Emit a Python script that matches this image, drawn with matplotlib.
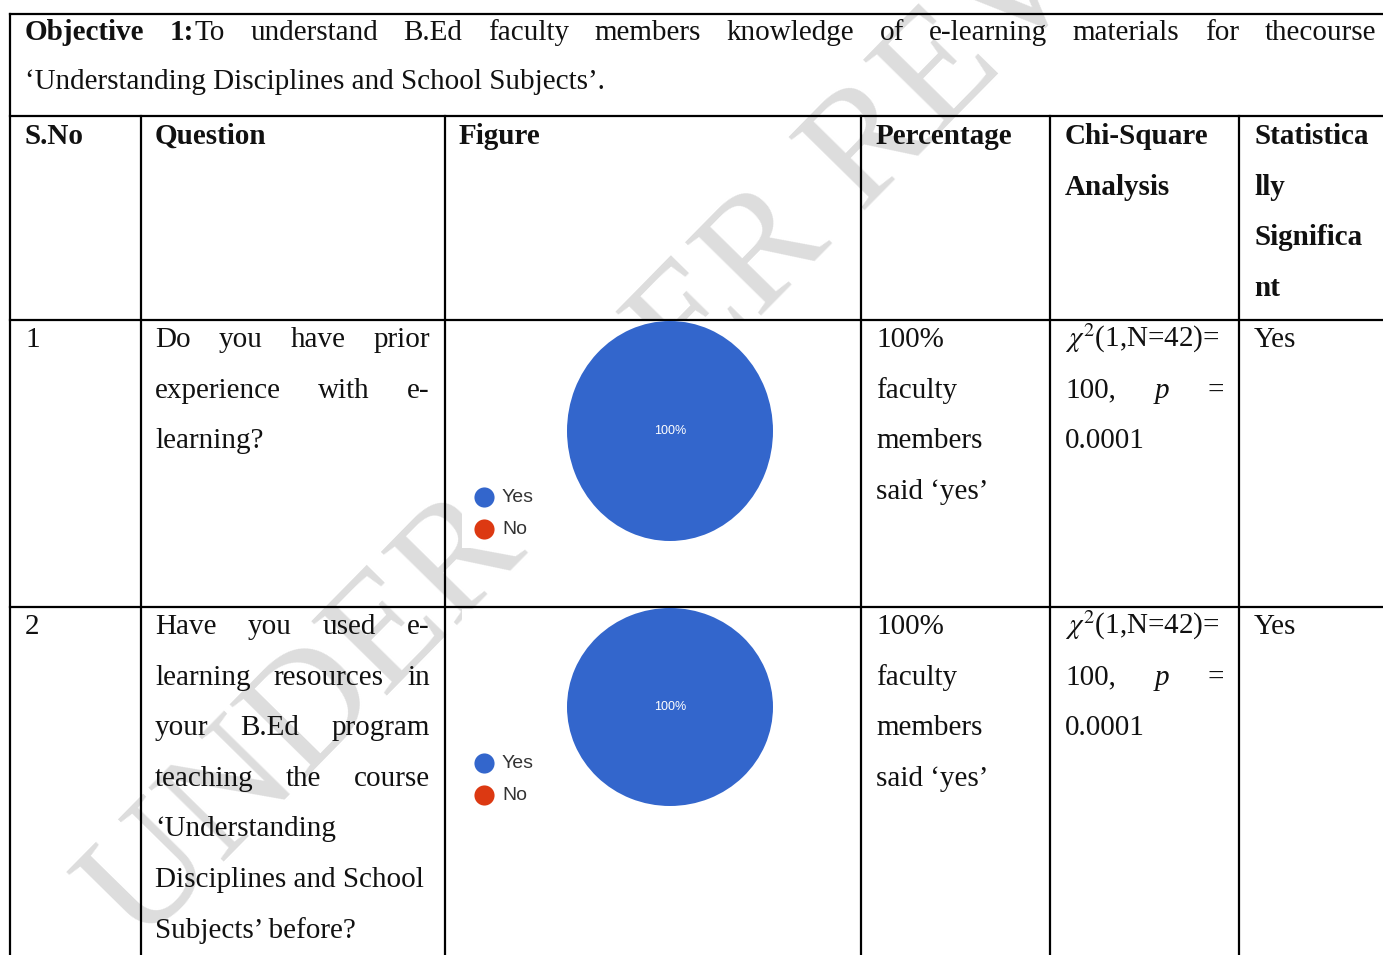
import matplotlib

matplotlib.use("Agg")
import matplotlib.pyplot as plt
from matplotlib.patches import Rectangle

# ---- data -------------------------------------------------------------
categories = ["Yes", "No"]
colors = ["#3366cc", "#dc3912"]
q1_values = [100, 0]
q2_values = [100, 0]

objective_words = [
    [("Objective", "bold")],
    [("1:", "bold"), ("To", "normal")],
    "understand", "B.Ed", "faculty", "members", "knowledge", "of",
    "e-learning", "materials", "for", "thecourse",
]
objective_line2 = "\u2018Understanding Disciplines and School Subjects\u2019."

headers = [["S.No"], ["Question"], ["Figure"], ["Percentage"],
           ["Chi-Square", "Analysis"], ["Statistica", "lly", "Significa", "nt"]]
serials = ["1", "2"]
questions = [
    [("Do you have prior", True), ("experience with e-", True), ("learning?", False)],
    [("Have you used e-", True), ("learning resources in", True),
     ("your B.Ed program", True), ("teaching the course", True),
     ("\u2018Understanding", False), ("Disciplines and School", False),
     ("Subjects\u2019 before?", False)],
]
percent_text = ["100%", "faculty", "members", "said \u2018yes\u2019"]
chi_line1 = r"$\chi^2$(1,N=42)="
chi_line2 = ["100,", "p", "="]
chi_line3 = "0.0001"
significance = ["Yes", "Yes"]

# ---- figure -----------------------------------------------------------
W, H = 1383, 955
plt.rcParams["mathtext.fontset"] = "stix"
fig = plt.figure(figsize=(W / 100, H / 100), dpi=100)
ax = fig.add_axes([0, 0, 1, 1])
ax.set_xlim(0, W)
ax.set_ylim(H, 0)
ax.axis("off")
renderer = fig.canvas.get_renderer()

SERIF = "Liberation Serif"
FS = 21
INK = "#111111"


def txt(x, y, s, weight="normal", style="normal", **kw):
    return ax.text(x, y, s, fontfamily=SERIF, fontsize=FS, color=INK,
                   fontweight=weight, fontstyle=style, va="baseline",
                   ha="left", zorder=4, **kw)


def width_of(s, weight="normal", style="normal"):
    t = txt(0, 0, s, weight, style)
    w = t.get_window_extent(renderer).width
    t.remove()
    return w


def norm_word(w):
    if isinstance(w, str):
        return [(w, "normal", "normal")]
    return [p if len(p) == 3 else (p[0], p[1], "normal") for p in w]


def justify(words, x0, x1, y):
    words = [norm_word(w) for w in words]
    widths = [sum(width_of(*p) for p in w) for w in words]
    gap = (x1 - x0 - sum(widths)) / (len(words) - 1)
    x = x0
    for w, wd in zip(words, widths):
        xx = x
        for s, wt, st in w:
            txt(xx, y, s, wt, st)
            xx += width_of(s, wt, st)
        x += wd + gap


# watermark
ax.text(140, 948, "UNDER PEER REVIEW", fontfamily=SERIF, fontsize=116,
        color="#dddddd", rotation=45.5, rotation_mode="anchor",
        ha="left", va="baseline", zorder=0.5)

# table grid
col_x = [10, 141, 445, 861, 1050, 1239]
row_y = [14, 116, 320, 607]
LW = 1.6
for y in row_y:
    ax.plot([col_x[0], W], [y, y], color="black", lw=LW, zorder=2)
ax.plot([col_x[0], col_x[0]], [row_y[0], H], color="black", lw=LW, zorder=2)
for x in col_x[1:]:
    ax.plot([x, x], [row_y[1], H], color="black", lw=LW, zorder=2)

# objective row
justify(objective_words, 25, 1376, 40)
txt(25, 89, objective_line2)

# header row
LS = 50.6
for x, lines in zip([25, 155, 459, 876, 1065, 1254], headers):
    for i, s in enumerate(lines):
        txt(x, 144 + i * LS, s, weight="bold")

# body rows
base_y = [347, 634]
for r in range(2):
    y0 = base_y[r]
    txt(25, y0, serials[r])
    for i, (line, just) in enumerate(questions[r]):
        if just:
            justify(line.split(), 155, 430, y0 + i * LS)
        else:
            txt(155, y0 + i * LS, line)
    for i, s in enumerate(percent_text):
        txt(876, y0 + i * LS, s)
    txt(1065, y0, chi_line1)
    justify([[(chi_line2[0], "normal")], [(chi_line2[1], "normal", "italic")],
             [(chi_line2[2], "normal")]], 1065, 1224, y0 + LS)
    txt(1065, y0 + 2 * LS, chi_line3)
    txt(1254, y0, significance[r])

# pie images (white backgrounds hide the watermark)
pie_boxes = [(567, 321, 773, 541), (567, 608, 773, 806)]
img_boxes = [(462, 321, 788, 548), (462, 609, 788, 812)]
legend_y = [497, 763]
for vals, pbox, ibox, ly in zip([q1_values, q2_values], pie_boxes, img_boxes, legend_y):
    ax.add_patch(Rectangle((ibox[0], ibox[1]), ibox[2] - ibox[0], ibox[3] - ibox[1],
                           facecolor="white", edgecolor="none", zorder=1))
    x0, y0, x1, y1 = pbox
    pax = fig.add_axes([x0 / W, 1 - y1 / H, (x1 - x0) / W, (y1 - y0) / H])
    pax.pie(vals, colors=colors, startangle=90, counterclock=False,
            autopct=lambda p: f"{p:.0f}%" if p > 0 else "", pctdistance=0,
            wedgeprops=dict(linewidth=0),
            textprops=dict(color="white", fontsize=9, fontfamily="Liberation Sans"))
    pax.set_aspect("auto")
    pax.set_xlim(-1, 1)
    pax.set_ylim(-1, 1)
    pax.axis("off")
    for i, (cat, col) in enumerate(zip(categories, colors)):
        yy = ly + i * 32
        ax.plot(484, yy, "o", ms=14.5, color=col, mec="none", zorder=4)
        ax.text(502, yy, cat, fontfamily="Liberation Sans", fontsize=14,
                color="#333333", va="center", ha="left", zorder=4)

fig.savefig("out.png", dpi=100)
